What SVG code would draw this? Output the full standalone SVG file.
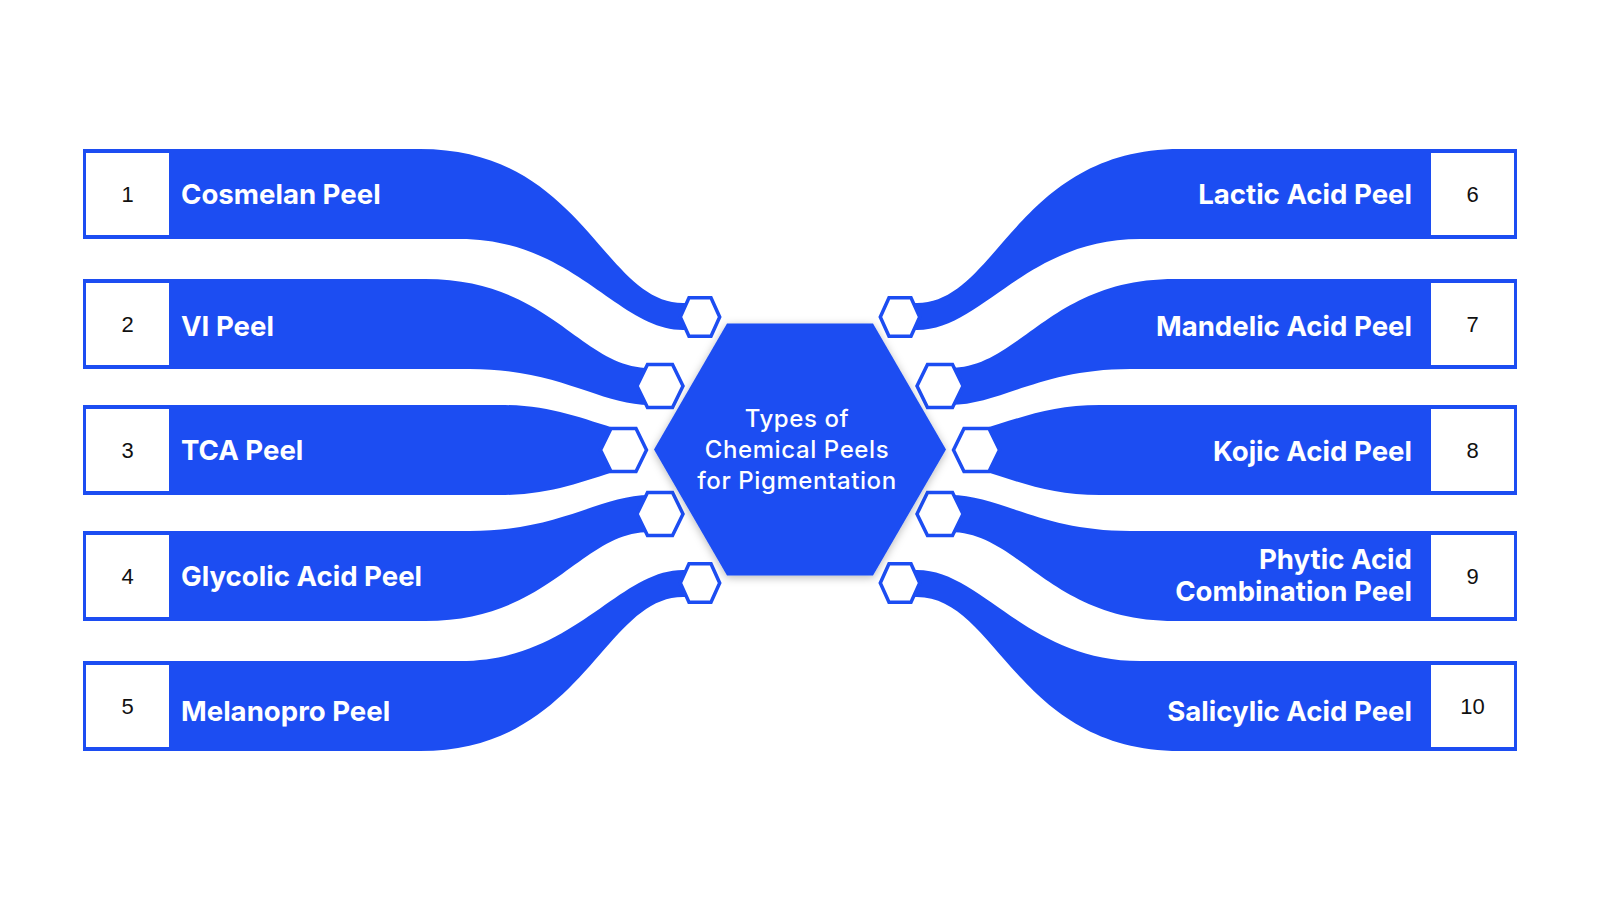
<svg xmlns="http://www.w3.org/2000/svg" width="1600" height="900" viewBox="0 0 1600 900">
<style>
.band{fill:#1C4DF2}
.box{fill:#ffffff}
.num{font-family:"Liberation Sans",Arial,sans-serif;font-size:22px;fill:#111111;text-anchor:middle}
.lbl{font-family:Inter,"Liberation Sans",sans-serif;font-weight:700;font-size:27.6px;fill:#ffffff}
.lblr{text-anchor:end}
.hex{fill:#ffffff;stroke:#1C4DF2;stroke-width:3.5;stroke-linejoin:miter}
.ctitle{font-family:Inter,"Liberation Sans",sans-serif;font-weight:500;font-size:24px;letter-spacing:0.6px;fill:#ffffff;text-anchor:middle}
</style>
<defs>
<path id="hs" d="M-11,-19.3 L11,-19.3 L19.7,0 L11,19.3 L-11,19.3 L-19.7,0Z"/>
<path id="hm" d="M-12.5,-21.5 L12.5,-21.5 L23,0 L12.5,21.5 L-12.5,21.5 L-23,0Z"/>
<filter id="sh" x="-20%" y="-20%" width="140%" height="140%">
<feDropShadow dx="0" dy="2" stdDeviation="4" flood-color="#000000" flood-opacity="0.28"/>
</filter>
</defs>
<rect width="1600" height="900" fill="#ffffff"/>

<g id="node-1">
<path class="band" d="M83,149 H420 C583,149 603,303 683,303 L700,303 L700,330 L683,330 C618,330 574,239 460,239 H83 Z"/>
<rect class="box" x="86" y="153" width="83" height="82"/>
<text class="num" x="127.5" y="202">1</text>
<text class="lbl" x="181" y="204">Cosmelan Peel</text>
</g>
<g id="node-2">
<path class="band" d="M83,279 H425 C551,279 580,368 650,368 L660,368 L660,405 L650,405 C600,405 560,369 470,369 H83 Z"/>
<rect class="box" x="86" y="283" width="83" height="82"/>
<text class="num" x="127.5" y="332">2</text>
<text class="lbl" x="181" y="335.5">VI Peel</text>
</g>
<g id="node-3">
<path class="band" d="M83,405 H500 C550,405 580,418 620,430 L624,430 L624,470 L620,470 C580,482 550,495 500,495 H83 Z"/>
<rect class="box" x="86" y="409" width="83" height="82"/>
<text class="num" x="127.5" y="458">3</text>
<text class="lbl" x="181" y="460">TCA Peel</text>
</g>
<g id="node-4">
<path class="band" d="M83,621 H425 C551,621 580,532 650,532 L660,532 L660,495 L650,495 C600,495 560,531 470,531 H83 Z"/>
<rect class="box" x="86" y="535" width="83" height="82"/>
<text class="num" x="127.5" y="584">4</text>
<text class="lbl" x="181" y="586">Glycolic Acid Peel</text>
</g>
<g id="node-5">
<path class="band" d="M83,751 H420 C583,751 603,597 683,597 L700,597 L700,570 L683,570 C618,570 574,661 460,661 H83 Z"/>
<rect class="box" x="86" y="665" width="83" height="82"/>
<text class="num" x="127.5" y="714">5</text>
<text class="lbl" x="181" y="721">Melanopro Peel</text>
</g>

<g id="node-6">
<path class="band" transform="matrix(-1 0 0 1 1600 0)" d="M83,149 H420 C583,149 603,303 683,303 L700,303 L700,330 L683,330 C618,330 574,239 460,239 H83 Z"/>
<rect class="box" x="1431" y="153" width="83" height="82"/>
<text class="num" x="1472.5" y="202">6</text>
<text class="lbl lblr" x="1412" y="204">Lactic Acid Peel</text>
</g>
<g id="node-7">
<path class="band" transform="matrix(-1 0 0 1 1600 0)" d="M83,279 H425 C551,279 580,368 650,368 L660,368 L660,405 L650,405 C600,405 560,369 470,369 H83 Z"/>
<rect class="box" x="1431" y="283" width="83" height="82"/>
<text class="num" x="1472.5" y="332">7</text>
<text class="lbl lblr" x="1412" y="335.5">Mandelic Acid Peel</text>
</g>
<g id="node-8">
<path class="band" transform="matrix(-1 0 0 1 1600 0)" d="M83,405 H500 C550,405 580,418 620,430 L624,430 L624,470 L620,470 C580,482 550,495 500,495 H83 Z"/>
<rect class="box" x="1431" y="409" width="83" height="82"/>
<text class="num" x="1472.5" y="458">8</text>
<text class="lbl lblr" x="1412" y="461">Kojic Acid Peel</text>
</g>
<g id="node-9">
<path class="band" transform="matrix(-1 0 0 1 1600 0)" d="M83,621 H425 C551,621 580,532 650,532 L660,532 L660,495 L650,495 C600,495 560,531 470,531 H83 Z"/>
<rect class="box" x="1431" y="535" width="83" height="82"/>
<text class="num" x="1472.5" y="584">9</text>
<text class="lbl lblr" x="1412" y="569">Phytic Acid</text>
<text class="lbl lblr" x="1412" y="601">Combination Peel</text>
</g>
<g id="node-10">
<path class="band" transform="matrix(-1 0 0 1 1600 0)" d="M83,751 H420 C583,751 603,597 683,597 L700,597 L700,570 L683,570 C618,570 574,661 460,661 H83 Z"/>
<rect class="box" x="1431" y="665" width="83" height="82"/>
<text class="num" x="1472.5" y="714">10</text>
<text class="lbl lblr" x="1412" y="721">Salicylic Acid Peel</text>
</g>

<g id="connectors">
<use href="#hs" class="hex" x="700" y="317"/>
<use href="#hm" class="hex" x="660" y="386"/>
<use href="#hm" class="hex" x="623.5" y="450"/>
<use href="#hm" class="hex" x="660" y="514"/>
<use href="#hs" class="hex" x="700" y="583"/>
<use href="#hs" class="hex" x="900" y="317"/>
<use href="#hm" class="hex" x="940" y="386"/>
<use href="#hm" class="hex" x="976.5" y="450"/>
<use href="#hm" class="hex" x="940" y="514"/>
<use href="#hs" class="hex" x="900" y="583"/>
</g>

<g id="center">
<path d="M727,323.5 L873,323.5 L946,449.5 L873,575.5 L727,575.5 L654,449.5 Z" fill="#1C4DF2" filter="url(#sh)"/>
<text class="ctitle" x="797" y="427">Types of</text>
<text class="ctitle" x="797" y="458">Chemical Peels</text>
<text class="ctitle" x="797" y="489">for Pigmentation</text>
</g>
</svg>
